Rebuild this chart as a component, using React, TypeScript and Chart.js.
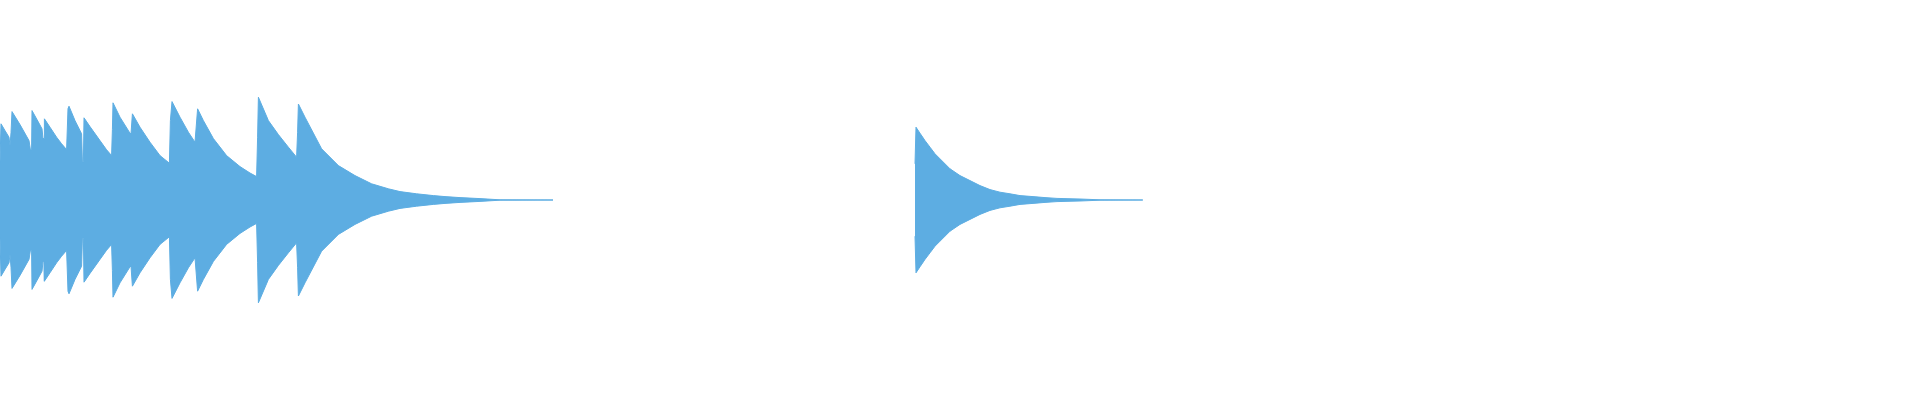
import React, { useEffect, useRef } from "react";
import { Chart, registerables } from "chart.js";

Chart.register(...registerables);

// Time in milliseconds, amplitude in percent of full scale (envelope, symmetric)
const burstTime: number[] = [
  0, 5, 25, 45, 50,
  55, 60, 100, 145, 152,
  158, 160, 185, 210, 215,
  220, 222, 250, 283, 308, 333,
  340, 345, 375, 408, 412,
  417, 420, 450, 500, 533, 558,
  562, 565, 600, 650,
  655, 662, 700, 750, 800, 847,
  852, 860, 900, 942, 975,
  988, 1017, 1067, 1133, 1200, 1250, 1283,
  1288, 1292, 1342, 1392, 1442, 1483,
  1488, 1492, 1525, 1608, 1692, 1775, 1858, 1942, 2000, 2083, 2167, 2225, 2300, 2400, 2500, 2765,
];
const burstAmp: number[] = [
  18.9, 38.1, 34.7, 31.4, 27.2,
  33.6, 44.2, 37.7, 29.7, 25.2,
  25.2, 44.7, 40.2, 35.6, 30.7,
  30.7, 40.6, 36.4, 31.4, 28.1, 25.2,
  45.7, 46.9, 39.7, 33.1, 19.2,
  19.2, 41.1, 36.7, 29.7, 25.1, 22.2,
  35.2, 48.6, 41.4, 33.4,
  33.1, 43.1, 36.4, 28.9, 22.2, 18.4,
  39.7, 49.2, 41.4, 33.9, 28.9,
  45.6, 39.7, 30.7, 22.2, 16.7, 13.5, 11.7,
  31.4, 51.4, 39.7, 32.7, 26.4, 21.4,
  33.9, 48.0, 41.4, 25.6, 17.2, 12.2, 8.1, 5.6, 4.2, 3.1, 2.2, 1.7, 1.2, 0.7, 0.1, 0,
];

const hitTime: number[] = [
  4575, 4580, 4600, 4625, 4650, 4675, 4700, 4750, 4800, 4850, 4900,
  4950, 5000, 5050, 5100, 5165, 5225, 5285, 5400, 5500, 5714,
];
const hitAmp: number[] = [
  18.1, 36.4, 33.4, 29.7, 26.4, 23.1, 20.6, 15.6, 12.2, 9.7, 7.2,
  5.2, 3.9, 3.1, 2.2, 1.7, 1.2, 0.8, 0.5, 0.1, 0,
];

const WAVE_COLOR = "#5DADE2";

function envelope(times: number[], amps: number[], sign: number) {
  return times.map((t, i) => ({ x: t, y: sign * amps[i] }));
}

export default function App() {
  const canvasRef = useRef<HTMLCanvasElement | null>(null);

  useEffect(() => {
    if (!canvasRef.current) return;
    const mk = (data: { x: number; y: number }[]) => ({
      data,
      borderColor: WAVE_COLOR,
      backgroundColor: WAVE_COLOR,
      borderWidth: 1,
      pointRadius: 0,
      tension: 0,
      fill: "origin" as const,
    });
    const chart = new Chart(canvasRef.current, {
      type: "line",
      data: {
        datasets: [
          mk(envelope(burstTime, burstAmp, 1)),
          mk(envelope(burstTime, burstAmp, -1)),
          mk(envelope(hitTime, hitAmp, 1)),
          mk(envelope(hitTime, hitAmp, -1)),
        ],
      },
      options: {
        animation: false,
        responsive: false,
        maintainAspectRatio: false,
        layout: { padding: 0 },
        plugins: {
          legend: { display: false },
          tooltip: { enabled: false },
          title: { display: false },
        },
        scales: {
          x: { type: "linear", min: 0, max: 9600, display: false },
          y: { type: "linear", min: -100, max: 100, display: false },
        },
      },
    });
    return () => chart.destroy();
  }, []);

  return (
    <div
      style={{
        position: "absolute",
        left: 0,
        top: 0,
        width: 1920,
        height: 400,
        background: "#ffffff",
      }}
    >
      <canvas ref={canvasRef} width={1920} height={400} />
    </div>
  );
}
